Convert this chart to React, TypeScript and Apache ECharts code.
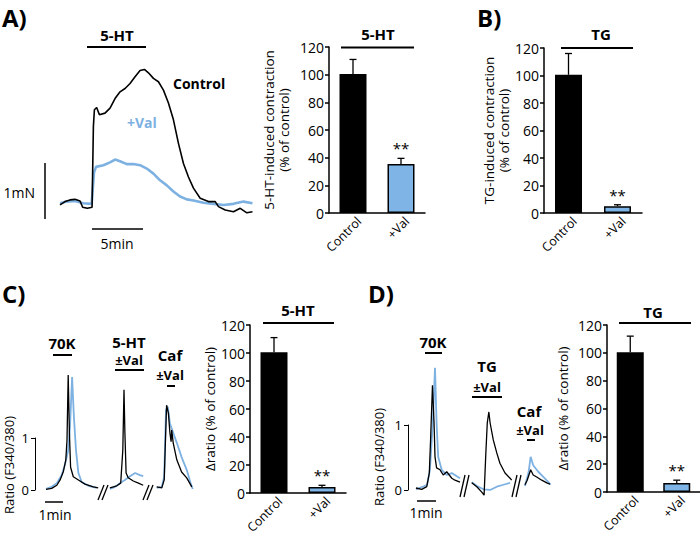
import React, { useEffect, useRef } from "react";
import * as echarts from "echarts";

const FONT = "'Open Sans', 'Noto Sans', sans-serif";
const BLACK = "#000000";
const BLUE = "#7DB1E2";
const BAR_BLUE = "#7EB4E6";

// ---------- bar chart data ----------
const barCategories = ["Control", "+Val"];
const aBarMeans = [100.5, 35.5];
const aBarErrors = [10.5, 4];
const bBarMeans = [100.5, 5];
const bBarErrors = [15.5, 1];
const cBarMeans = [100.5, 4.3];
const cBarErrors = [10.5, 1.2];
const dBarMeans = [100.5, 6.5];
const dBarErrors = [11.5, 2];
const barSig = ["", "**"];
const pctMin = 0;
const pctMax = 120;
const pctStep = 20;
const ratioTicks = [0, 1];

// ---------- Panel A traces: time (min), force (mN) ----------
const aControl = [
  [0, 0.09], [0.49, 0.15], [0.98, 0.18], [1.47, 0.19], [1.96, 0.16], [2.22, 0.05], [2.68, 0.03], [3.14, 0.05],
  [3.27, 1.49], [3.37, 1.79], [3.59, 1.83], [3.86, 1.7], [4.41, 1.73], [4.9, 1.82], [5.39, 1.99], [5.88, 2.11],
  [6.37, 2.17], [6.86, 2.26], [7.35, 2.38], [7.84, 2.49], [8.27, 2.51], [8.66, 2.45], [9.15, 2.35], [9.64, 2.29],
  [10.13, 2.14], [10.62, 1.91], [11.11, 1.61], [11.6, 1.19], [12.09, 0.83], [12.58, 0.59], [13.07, 0.39],
  [13.73, 0.21], [14.54, 0.15], [15.2, 0.15], [15.52, 0.06], [16.18, 0.0], [16.99, -0.03], [17.65, 0.03],
  [18.3, -0.05], [18.85, -0.03],
];
const aVal = [
  [0, 0.12], [0.65, 0.15], [1.47, 0.16], [2.29, 0.12], [3.1, 0.11], [3.33, 0.67], [3.53, 0.77], [4.25, 0.8],
  [4.9, 0.85], [5.39, 0.9], [5.88, 0.87], [6.54, 0.82], [7.19, 0.82], [7.84, 0.8], [8.5, 0.74], [9.15, 0.65],
  [9.8, 0.53], [10.46, 0.44], [11.11, 0.33], [11.76, 0.24], [12.42, 0.19], [13.07, 0.17], [14.05, 0.13],
  [15.03, 0.11], [16.01, 0.09], [16.99, 0.11], [17.97, 0.15], [18.85, 0.12],
];

// ---------- Panel C traces: time (s), ratio F340/380 ----------
const cCtl70K = [[0, 0.01], [19, 0.03], [36, 0.09], [47, 0.19], [58, 0.35], [66, 0.57], [70, 0.94], [74, 2.17], [78, 1.08], [82, 0.43], [91, 0.25], [108, 0.19], [130, 0.11], [158, 0.06], [174, 0.04]];
const cVal70K = [[0, 0.02], [19, 0.06], [36, 0.13], [52, 0.28], [63, 0.47], [74, 0.75], [80, 1.19], [87, 2.13], [93, 1.38], [100, 0.75], [108, 0.32], [119, 0.15], [141, 0.08], [169, 0.04]];
const cCtl5HT = [[213, 0.04], [236, 0.08], [249, 0.13], [256, 0.75], [260, 1.89], [263, 1.08], [267, 0.32], [274, 0.23], [291, 0.17], [308, 0.13], [324, 0.09]];
const cVal5HT = [[213, 0.02], [230, 0.06], [247, 0.13], [263, 0.19], [280, 0.26], [297, 0.32], [313, 0.28], [324, 0.26]];
const cCtlCaf = [[369, 0.06], [386, 0.04], [394, 0.19], [399, 1.08], [402, 1.6], [408, 1.45], [413, 1.08], [417, 0.91], [419, 1.13], [424, 0.89], [436, 0.57], [452, 0.34], [469, 0.23], [486, 0.06]];
const cValCaf = [[369, 0.04], [386, 0.06], [394, 0.25], [400, 1.51], [406, 1.57], [413, 1.26], [424, 1.08], [436, 0.89], [452, 0.62], [469, 0.38], [482, 0.13], [489, 0.02]];

// ---------- Panel D traces: time (s), ratio F340/380 ----------
const dCtl70K = [[0, 0], [18, -0.02], [34, 0.02], [42, 0.23], [46, 0.74], [52, 1.58], [57, 1.0], [60, 0.48], [65, 0.31], [76, 0.28], [86, 0.2], [97, 0.25], [113, 0.15], [123, 0.12], [139, 0.09]];
const dVal70K = [[0, -0.02], [22, 0.02], [35, 0.05], [44, 0.28], [53, 1.0], [60, 1.85], [65, 1.0], [70, 0.48], [81, 0.28], [97, 0.2], [113, 0.23], [129, 0.18], [139, 0.15]];
const dCtlTG = [[176, 0.08], [192, 0.02], [207, -0.06], [215, -0.11], [220, 0.48], [225, 1.0], [230, 1.17], [234, 1.0], [244, 0.74], [255, 0.54], [265, 0.38], [281, 0.23], [297, 0.15], [302, 0.12]];
const dValTG = [[176, 0.09], [192, 0.03], [213, -0.02], [234, -0.03], [255, 0.02], [276, 0.05], [297, 0.08]];
const dCtlCaf = [[344, 0.05], [351, 0.12], [362, 0.28], [370, 0.2], [381, 0.17], [397, 0.12], [413, 0.08], [423, 0.06]];
const dValCaf = [[344, 0.03], [355, 0.23], [362, 0.48], [370, 0.35], [386, 0.25], [402, 0.17], [418, 0.09], [425, 0.05]];

function txt(text: string, x: number, y: number, size: number, opts: any = {}) {
  return {
    type: "text",
    x,
    y,
    z: 100,
    rotation: opts.rotation || 0,
    style: {
      text,
      fill: opts.color || BLACK,
      font: `${opts.bold ? "bold " : ""}${size}px ${FONT}`,
      align: opts.align || "center",
      verticalAlign: "middle",
      textAlign: opts.align || "center",
      textVerticalAlign: "middle",
    },
  };
}
function ln(x1: number, y1: number, x2: number, y2: number, w = 2) {
  return { type: "line", z: 100, shape: { x1, y1, x2, y2 }, style: { stroke: BLACK, lineWidth: w } };
}

function traceSeries(data: number[][], color: string, width: number, idx: number) {
  return {
    type: "line",
    xAxisIndex: idx,
    yAxisIndex: idx,
    data,
    symbol: "none",
    showSymbol: false,
    silent: true,
    lineStyle: { color, width },
    itemStyle: { color },
  };
}

function barSeries(idx: number, means: number[], errors: number[]) {
  return [
    {
      type: "bar",
      xAxisIndex: idx,
      yAxisIndex: idx,
      barWidth: 27,
      data: means.map((v, j) => ({ value: v, itemStyle: { color: j === 0 ? BLACK : BAR_BLUE } })),
      itemStyle: { borderColor: BLACK, borderWidth: 1.5 },
      silent: true,
    },
    {
      type: "custom",
      xAxisIndex: idx,
      yAxisIndex: idx,
      z: 5,
      silent: true,
      data: means.map((v, j) => [j, v, errors[j]]),
      renderItem: (params: any, api: any) => {
        const xi = api.value(0);
        const m = api.value(1);
        const e = api.value(2);
        const base = api.coord([xi, m]);
        const top = api.coord([xi, m + e]);
        const children: any[] = [
          { type: "line", shape: { x1: base[0], y1: base[1], x2: top[0], y2: top[1] }, style: { stroke: BLACK, lineWidth: 1.3 } },
          { type: "line", shape: { x1: top[0] - 3.5, y1: top[1], x2: top[0] + 3.5, y2: top[1] }, style: { stroke: BLACK, lineWidth: 1.3 } },
        ];
        const s = barSig[params.dataIndex];
        if (s) {
          children.push({
            type: "text",
            x: top[0],
            y: top[1] - 10,
            style: { text: s, fill: BLACK, font: `15px ${FONT}`, align: "center", verticalAlign: "middle" },
          });
        }
        return { type: "group", children };
      },
    },
  ];
}

function barX(idx: number) {
  return {
    type: "category",
    gridIndex: idx,
    data: barCategories,
    axisLine: { show: true, lineStyle: { color: BLACK, width: 1.5 } },
    axisTick: { show: false },
    axisLabel: {
      rotate: 45,
      fontSize: 12.5,
      color: BLACK,
      fontFamily: FONT,
      margin: 0,
      interval: 0,
      verticalAlign: "top",
      padding: [2, 0, 0, 0],
    },
    splitLine: { show: false },
  };
}
function barY(idx: number, name: string, gap: number) {
  return {
    type: "value",
    gridIndex: idx,
    min: pctMin,
    max: pctMax,
    interval: pctStep,
    name,
    nameLocation: "middle",
    nameGap: gap,
    nameRotate: 90,
    nameTextStyle: { fontSize: 13.5, color: BLACK, fontFamily: FONT, lineHeight: 15 },
    axisLine: { show: true, lineStyle: { color: BLACK, width: 1.5 } },
    axisTick: { show: true, length: 4, lineStyle: { color: BLACK, width: 1.5 } },
    axisLabel: { fontSize: 14, color: BLACK, fontFamily: FONT, margin: 5 },
    splitLine: { show: false },
  };
}
function hiddenX(idx: number, min: number, max: number) {
  return { type: "value", gridIndex: idx, min, max, show: false, splitLine: { show: false } };
}
function hiddenY(idx: number, min: number, max: number) {
  return { type: "value", gridIndex: idx, min, max, show: false, splitLine: { show: false } };
}
function scaleY(idx: number) {
  return {
    type: "value",
    gridIndex: idx,
    min: ratioTicks[0],
    max: ratioTicks[ratioTicks.length - 1],
    interval: 1,
    axisLine: { show: true, lineStyle: { color: BLACK, width: 1 } },
    axisTick: { show: true, length: 4, lineStyle: { color: BLACK, width: 1 } },
    axisLabel: { fontSize: 13, color: BLACK, fontFamily: FONT, margin: 6 },
    splitLine: { show: false },
  };
}

export default function App() {
  const ref = useRef<HTMLDivElement>(null);
  useEffect(() => {
    if (!ref.current) return;
    const chart = echarts.init(ref.current, null, { renderer: "svg" });
    const g = (o: any) => ({ containLabel: false, outerBoundsMode: "none", ...o });
    const option: any = {
      animation: false,
      backgroundColor: "#ffffff",
      textStyle: { fontFamily: FONT },
      grid: [
        g({ left: 60, top: 58.8, width: 194, height: 162.4 }), // 0 A trace
        g({ left: 329, top: 47, width: 96, height: 166 }), // 1 A bar
        g({ left: 544, top: 48, width: 98, height: 165 }), // 2 B bar
        g({ left: 46, top: 368.1, width: 147, height: 127.2 }), // 3 C trace
        g({ left: 35, top: 438, width: 1, height: 52 }), // 4 C scale
        g({ left: 250, top: 325, width: 96, height: 168 }), // 5 C bar
        g({ left: 416, top: 358, width: 136.2, height: 143 }), // 6 D trace
        g({ left: 408, top: 425, width: 1, height: 65 }), // 7 D scale
        g({ left: 607, top: 325, width: 93, height: 167 }), // 8 D bar
      ],
      xAxis: [
        hiddenX(0, 0, 19),
        barX(1),
        barX(2),
        hiddenX(3, 0, 490),
        hiddenX(4, 0, 1),
        barX(5),
        hiddenX(6, 0, 430),
        hiddenX(7, 0, 1),
        barX(8),
      ],
      yAxis: [
        hiddenY(0, -0.2, 2.7),
        barY(1, "5-HT-induced contraction\n(% of control)", 38),
        barY(2, "TG-induced contraction\n(% of control)", 30),
        hiddenY(3, -0.1, 2.3),
        scaleY(4),
        barY(5, "Δratio (% of control)", 30),
        hiddenY(6, -0.2, 2.0),
        scaleY(7),
        barY(8, "Δratio (% of control)", 37),
      ],
      series: [
        traceSeries(aVal, BLUE, 2.6, 0),
        traceSeries(aControl, BLACK, 1.6, 0),
        ...barSeries(1, aBarMeans, aBarErrors),
        ...barSeries(2, bBarMeans, bBarErrors),
        traceSeries(cVal70K, BLUE, 1.8, 3),
        traceSeries(cVal5HT, BLUE, 1.8, 3),
        traceSeries(cValCaf, BLUE, 1.8, 3),
        traceSeries(cCtl70K, BLACK, 1.3, 3),
        traceSeries(cCtl5HT, BLACK, 1.3, 3),
        traceSeries(cCtlCaf, BLACK, 1.3, 3),
        ...barSeries(5, cBarMeans, cBarErrors),
        traceSeries(dVal70K, BLUE, 1.8, 6),
        traceSeries(dValTG, BLUE, 1.8, 6),
        traceSeries(dValCaf, BLUE, 1.8, 6),
        traceSeries(dCtl70K, BLACK, 1.3, 6),
        traceSeries(dCtlTG, BLACK, 1.3, 6),
        traceSeries(dCtlCaf, BLACK, 1.3, 6),
        ...barSeries(8, dBarMeans, dBarErrors),
      ],
      graphic: [
        // Panel A
        txt("A)", 2, 17, 24, { bold: true, align: "left" }),
        txt("5-HT", 117, 35, 15, { bold: true }),
        ln(87, 47, 146, 47),
        txt("Control", 173, 83, 14, { bold: true, align: "left" }),
        txt("+Val", 127, 122, 14, { bold: true, align: "left", color: BLUE }),
        ln(45, 163, 45, 219, 1.5),
        txt("1mN", 35, 192, 14, { align: "right" }),
        ln(92, 229, 143, 229, 1.5),
        txt("5min", 117, 243, 14),
        txt("5-HT", 378, 34, 15, { bold: true }),
        ln(341, 47.5, 414, 47.5),
        // Panel B
        txt("B)", 477, 17, 24, { bold: true, align: "left" }),
        txt("TG", 601, 34, 15, { bold: true }),
        ln(561, 48, 633, 48),
        // Panel C
        txt("C)", 2, 293, 24, { bold: true, align: "left" }),
        txt("70K", 62, 343, 15, { bold: true }),
        ln(53, 355, 72, 355),
        txt("5-HT", 129, 342, 15, { bold: true }),
        txt("±Val", 129, 360, 13, { bold: true }),
        ln(115, 370, 144, 370),
        txt("Caf", 170, 355, 15, { bold: true }),
        txt("±Val", 170, 375, 13, { bold: true }),
        ln(167, 386, 175, 386),
        txt("Ratio (F340/380)", 9, 465, 13, { rotation: Math.PI / 2 }),
        ln(45, 502, 63, 502, 1.5),
        txt("1min", 55, 514, 14),
        ln(98, 500, 104, 485, 1.3),
        ln(102, 500, 108, 485, 1.3),
        ln(143, 500, 149, 485, 1.3),
        ln(147, 500, 153, 485, 1.3),
        txt("5-HT", 298, 310, 15, { bold: true }),
        ln(263, 323, 334, 323),
        // Panel D
        txt("D)", 368, 293, 24, { bold: true, align: "left" }),
        txt("70K", 433, 342, 15, { bold: true }),
        ln(425, 353, 442, 353),
        txt("TG", 487, 366, 15, { bold: true }),
        txt("±Val", 487, 387, 13, { bold: true }),
        ln(472, 397, 502, 397),
        txt("Caf", 529, 411, 15, { bold: true }),
        txt("±Val", 530, 430, 13, { bold: true }),
        ln(527, 440, 535, 440),
        txt("Ratio (F340/380)", 379, 457, 13, { rotation: Math.PI / 2 }),
        ln(417, 501, 436, 501, 1.5),
        txt("1min", 426, 512, 14),
        ln(460, 497, 465, 475, 1.3),
        ln(464, 497, 469, 475, 1.3),
        ln(512, 497, 517, 475, 1.3),
        ln(516, 497, 521, 475, 1.3),
        txt("TG", 653, 312, 15, { bold: true }),
        ln(619, 323, 691, 323),
      ],
    };
    chart.setOption(option);
    return () => chart.dispose();
  }, []);
  return (
    <div
      ref={ref}
      style={{ position: "fixed", left: 0, top: 0, width: 700, height: 538, background: "#fff" }}
    />
  );
}
